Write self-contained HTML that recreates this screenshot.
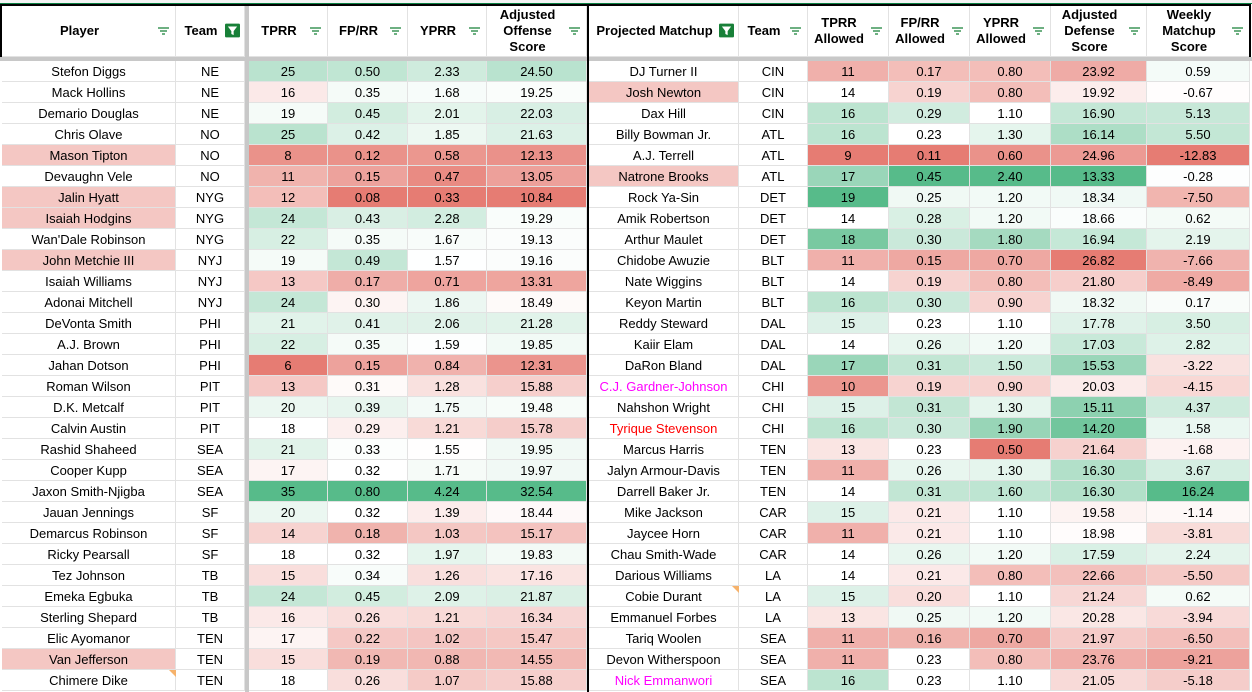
<!DOCTYPE html>
<html><head><meta charset="utf-8"><style>
body{margin:0;width:1252px;height:692px;overflow:hidden;background:#fff;font-family:"Liberation Sans",Arial,sans-serif;font-size:13px;color:#000;position:relative}
.c{position:absolute;box-sizing:border-box;border-right:1px solid #e2e2e2;border-bottom:1px solid #e2e2e2;display:flex;align-items:center;justify-content:center;white-space:nowrap;overflow:hidden}
.h{font-weight:bold;text-align:center;line-height:16px;padding-right:18px}
.ic{position:absolute;right:5px;top:50%;margin-top:-6px;width:13px;height:12px}
.tri{position:absolute;width:0;height:0;border-top:7px solid #f6b26b;border-left:7px solid transparent}
</style></head><body>
<div style="position:absolute;left:0;top:0;width:1252px;height:3px;background:#f3f3f3;border-bottom:1px solid #0b8043"></div>
<div id="root"></div>
<script>
var cols=[[2,176],[176,245],[249,328],[328,408],[408,487],[487,587],[589,739],[739,808],[808,889],[889,970],[970,1051],[1051,1147],[1147,1250]];
var heads=["Player","Team","TPRR","FP/RR","YPRR","Adjusted<br>Offense<br>Score","Projected Matchup","Team","TPRR<br>Allowed","FP/RR<br>Allowed","YPRR<br>Allowed","Adjusted<br>Defense<br>Score","Weekly<br>Matchup<br>Score"];
var L=`Stefon Diggs|NE|25|0.50|2.33|24.50|DJ Turner II|CIN|11|0.17|0.80|23.92|0.59
Mack Hollins|NE|16|0.35|1.68|19.25|Josh Newton|CIN|14|0.19|0.80|19.92|-0.67
Demario Douglas|NE|19|0.45|2.01|22.03|Dax Hill|CIN|16|0.29|1.10|16.90|5.13
Chris Olave|NO|25|0.42|1.85|21.63|Billy Bowman Jr.|ATL|16|0.23|1.30|16.14|5.50
Mason Tipton|NO|8|0.12|0.58|12.13|A.J. Terrell|ATL|9|0.11|0.60|24.96|-12.83
Devaughn Vele|NO|11|0.15|0.47|13.05|Natrone Brooks|ATL|17|0.45|2.40|13.33|-0.28
Jalin Hyatt|NYG|12|0.08|0.33|10.84|Rock Ya-Sin|DET|19|0.25|1.20|18.34|-7.50
Isaiah Hodgins|NYG|24|0.43|2.28|19.29|Amik Robertson|DET|14|0.28|1.20|18.66|0.62
Wan'Dale Robinson|NYG|22|0.35|1.67|19.13|Arthur Maulet|DET|18|0.30|1.80|16.94|2.19
John Metchie III|NYJ|19|0.49|1.57|19.16|Chidobe Awuzie|BLT|11|0.15|0.70|26.82|-7.66
Isaiah Williams|NYJ|13|0.17|0.71|13.31|Nate Wiggins|BLT|14|0.19|0.80|21.80|-8.49
Adonai Mitchell|NYJ|24|0.30|1.86|18.49|Keyon Martin|BLT|16|0.30|0.90|18.32|0.17
DeVonta Smith|PHI|21|0.41|2.06|21.28|Reddy Steward|DAL|15|0.23|1.10|17.78|3.50
A.J. Brown|PHI|22|0.35|1.59|19.85|Kaiir Elam|DAL|14|0.26|1.20|17.03|2.82
Jahan Dotson|PHI|6|0.15|0.84|12.31|DaRon Bland|DAL|17|0.31|1.50|15.53|-3.22
Roman Wilson|PIT|13|0.31|1.28|15.88|C.J. Gardner-Johnson|CHI|10|0.19|0.90|20.03|-4.15
D.K. Metcalf|PIT|20|0.39|1.75|19.48|Nahshon Wright|CHI|15|0.31|1.30|15.11|4.37
Calvin Austin|PIT|18|0.29|1.21|15.78|Tyrique Stevenson|CHI|16|0.30|1.90|14.20|1.58
Rashid Shaheed|SEA|21|0.33|1.55|19.95|Marcus Harris|TEN|13|0.23|0.50|21.64|-1.68
Cooper Kupp|SEA|17|0.32|1.71|19.97|Jalyn Armour-Davis|TEN|11|0.26|1.30|16.30|3.67
Jaxon Smith-Njigba|SEA|35|0.80|4.24|32.54|Darrell Baker Jr.|TEN|14|0.31|1.60|16.30|16.24
Jauan Jennings|SF|20|0.32|1.39|18.44|Mike Jackson|CAR|15|0.21|1.10|19.58|-1.14
Demarcus Robinson|SF|14|0.18|1.03|15.17|Jaycee Horn|CAR|11|0.21|1.10|18.98|-3.81
Ricky Pearsall|SF|18|0.32|1.97|19.83|Chau Smith-Wade|CAR|14|0.26|1.20|17.59|2.24
Tez Johnson|TB|15|0.34|1.26|17.16|Darious Williams|LA|14|0.21|0.80|22.66|-5.50
Emeka Egbuka|TB|24|0.45|2.09|21.87|Cobie Durant|LA|15|0.20|1.10|21.24|0.62
Sterling Shepard|TB|16|0.26|1.21|16.34|Emmanuel Forbes|LA|13|0.25|1.20|20.28|-3.94
Elic Ayomanor|TEN|17|0.22|1.02|15.47|Tariq Woolen|SEA|11|0.16|0.70|21.97|-6.50
Van Jefferson|TEN|15|0.19|0.88|14.55|Devon Witherspoon|SEA|11|0.23|0.80|23.76|-9.21
Chimere Dike|TEN|18|0.26|1.07|15.88|Nick Emmanwori|SEA|16|0.23|1.10|21.05|-5.18`.split("\n").map(r=>r.split("|"));
var pink={"Mason Tipton":1,"Jalin Hyatt":1,"Isaiah Hodgins":1,"John Metchie III":1,"Van Jefferson":1,"Josh Newton":1,"Natrone Brooks":1};
var txt={"C.J. Gardner-Johnson":"#ff00ff","Nick Emmanwori":"#ff00ff","Tyrique Stevenson":"#ff0000"};
var grad={2:1,3:1,4:1,5:1,8:1,9:1,10:1,11:-1,12:1};
var R=[230,124,115],G=[87,187,138];
var stats={};
for(var k in grad){var v=L.map(r=>parseFloat(r[k])).sort((a,b)=>a-b);stats[k]=[v[0],(v[14]+v[15])/2,v[v.length-1]];}
function col(k,x){var s=stats[k],t,c;if(x>=s[1]){t=(x-s[1])/(s[2]-s[1]||1);c=grad[k]>0?G:R}else{t=(s[1]-x)/(s[1]-s[0]||1);c=grad[k]>0?R:G}
return "rgb("+c.map(q=>Math.round(255+(q-255)*t)).join(",")+")";}
var h="";
var filt='<svg class="ic" viewBox="0 0 13 12"><path d="M1 3h11M3 6h7M5 9h3" stroke="#188038" stroke-width="1.3"/></svg>';
var filtOn='<svg class="ic" viewBox="0 0 13 12" style="width:15px;height:15px;margin-top:-8px;right:4px"><rect width="13" height="12" rx="1" fill="#188038"/><path d="M2.5 2.5h8l-3 4v3.5l-2-1v-2.5z" fill="#fff"/></svg>';
cols.forEach((c,i)=>{h+='<div class="c" style="left:'+c[0]+'px;top:5px;width:'+(c[1]-c[0])+'px;height:52px"><div class="h">'+heads[i]+'</div>'+((i==1||i==6)?filtOn:filt)+'</div>';});
L.forEach((r,j)=>{var y=61+j*21;cols.forEach((c,i)=>{var st='left:'+c[0]+'px;top:'+y+'px;width:'+(c[1]-c[0])+'px;height:21px;';
if(grad[i])st+='background:'+col(i,parseFloat(r[i]))+';';
if((i==0||i==6)&&pink[r[i]])st+='background:#f4c7c3;';
if(i==6&&txt[r[i]])st+='color:'+txt[r[i]]+';';
h+='<div class="c" style="'+st+'">'+r[i]+'</div>';});});
h+='<div style="position:absolute;left:0;top:57px;width:1252px;height:4px;background:#c8c8c8"></div>';
h+='<div style="position:absolute;left:245px;top:4px;width:4px;height:688px;background:#c8c8c8"></div>';
h+='<div style="position:absolute;left:587px;top:4px;width:2px;height:688px;background:#000"></div>';
h+='<div style="position:absolute;left:0;top:4px;width:2px;height:53px;background:#000"></div>';
h+='<div style="position:absolute;left:1249px;top:4px;width:2px;height:53px;background:#000"></div>';
h+='<div style="position:absolute;left:0;top:4px;width:1251px;height:2px;background:#000"></div>';
h+='<div class="tri" style="left:169px;top:670px"></div><div class="tri" style="left:732px;top:586px"></div>';
document.getElementById("root").innerHTML=h;
</script>
</body></html>
